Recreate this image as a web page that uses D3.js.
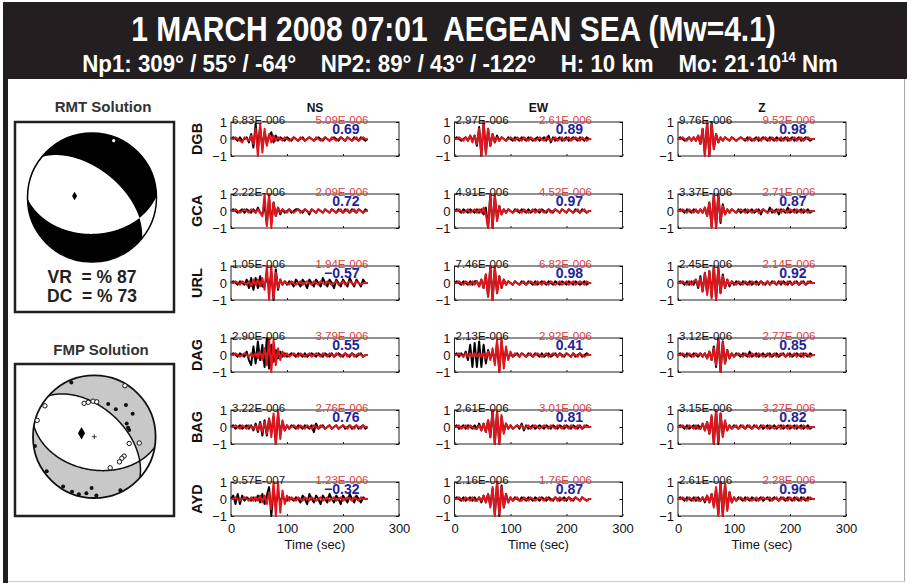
<!DOCTYPE html>
<html>
<head>
<meta charset="utf-8">
<script src="https://cdn.jsdelivr.net/npm/d3@7"></script>
<style>
html, body { margin: 0; padding: 0; background: #fff; }
svg { display: block; font-family: "Liberation Sans", Arial, sans-serif; }
text { white-space: pre; }
</style>
</head>
<body>
<svg id="chart" width="907" height="583"></svg>
<script>
// ---- header values ----
const titleText = "1 MARCH 2008 07:01  AEGEAN SEA (Mw=4.1)";
const subtitleParts = ["Np1: 309° / 55° / -64°    NP2: 89° / 43° / -122°    H: 10 km    Mo: 21·10", "14", " Nm"];

// ---- RMT solution (nodal planes: strike, dip) ----
const rmtPlanes = [[309, 55], [89, 43]];
const rmtStats = ["VR  = % 87", "DC  = % 73"];

// ---- FMP solution: nodal planes and first-motion polarities (azimuth deg, radial fraction) ----
const fmpPlanes = [[312, 52], [100, 45]];
const fmpCompAz = [337, 23, 38, 45, 59, 68, 75, 79, 261, 234, 212, 202, 195, 188, 178, 183, 154];
const fmpCompR  = [0.96, 0.58, 0.57, 0.73, 0.73, 0.57, 0.57, 0.58, 0.98, 0.96, 0.96, 0.97, 0.97, 0.93, 0.96, 0.84, 0.97];
const fmpDilAz  = [31, 302, 286, 343, 350, 358, 4, 101, 98, 123, 128, 135, 153];
const fmpDilR   = [0.97, 0.95, 0.97, 0.57, 0.57, 0.58, 0.57, 0.58, 0.74, 0.58, 0.57, 0.58, 0.57];

// ---- waveform fits ----
const stations = ["DGB", "GCA", "URL", "DAG", "BAG", "AYD"];
const components = ["NS", "EW", "Z"];
const obsPeak = [
  ["6.83E-006", "2.97E-006", "9.76E-006"],
  ["2.22E-006", "4.91E-006", "3.37E-006"],
  ["1.05E-006", "7.46E-006", "2.45E-006"],
  ["2.90E-006", "2.13E-006", "3.12E-006"],
  ["3.22E-006", "2.61E-006", "3.15E-006"],
  ["9.57E-007", "2.16E-006", "2.61E-006"]
];
const synPeak = [
  ["5.09E-006", "2.61E-006", "9.52E-006"],
  ["2.09E-006", "4.52E-006", "2.71E-006"],
  ["1.94E-006", "6.82E-006", "2.14E-006"],
  ["3.79E-006", "2.92E-006", "2.77E-006"],
  ["2.76E-006", "3.01E-006", "3.27E-006"],
  ["1.23E-006", "1.76E-006", "2.28E-006"]
];
const corrVals = [
  [0.69, 0.89, 0.98],
  [0.72, 0.97, 0.87],
  [-0.57, 0.98, 0.92],
  [0.55, 0.41, 0.85],
  [0.76, 0.81, 0.82],
  [-0.32, 0.87, 0.96]
];
const timeTicks = [0, 100, 200, 300];
const ampTicks = [-1, 0, 1];
const dt = 4; // seconds between samples; values in tenths of normalised amplitude

// observed (black) and synthetic (red) traces, 0..244 s
const DGB_NS_obs = [0,1,0,-1,1,-1,0,1,-2,3, -5,9,-6,7,-5,4,-3,2,4,-2, 2,-1,1,0,-1,1,0,-1,1,0, -1,0,1,-1,0,1,0,-1,0,1, 0,-1,1,0,-1,0,1,0,-1,1, 0,-1,1,0,-1,1,0,-1,1,0, -1,0];
const DGB_NS_syn = [0,0,1,0,-1,-2,1,0,-1,2, -3,6,-10,9,-8,6,-4,3,-2,2, -1,1,0,-1,1,0,-1,0,1,0, -1,1,0,-1,0,1,0,-1,1,0, -1,0,1,0,-1,1,0,-1,0,1, 0,-1,1,0,-1,0,1,-1,0,1, 0,0];
const GCA_NS_obs = [0,1,0,-1,0,1,-1,1,0,-1, 1,-1,2,-1,-2,4,-8,7,-7,5, -3,2,-2,1,-1,0,1,-1,0,1, 1,0,-1,1,0,-2,1,0,-1,1, 0,-1,1,0,-1,1,0,-1,1,0, -1,1,0,-1,1,0,-1,1,0,-1, 1,0];
const GCA_NS_syn = [0,0,1,0,-1,0,1,0,-1,1, 0,-1,1,-1,-3,10,-9,10,-10,5, -3,2,-1,1,0,-1,1,0,-1,0, 1,-1,0,1,0,-1,1,0,-1,1, 0,-1,1,0,-1,1,0,-1,0,1, -1,0,1,-1,0,1,-1,1,0,-1, 0,0];
const URL_NS_obs = [0,1,0,-1,1,0,-1,2,-3,3, -4,3,-3,4,-2,-2,4,-3,6,-10, 8,-4,2,-1,1,-1,1,0,-2,2, 0,-2,2,0,-3,2,0,-2,2,0, -2,3,0,-2,2,0,-3,2,0,-2, 2,0,-2,3,0,-2,2,0,-2,2, 0,0];
const URL_NS_syn = [0,0,1,0,-1,1,0,-1,1,-2, 2,-1,2,-2,3,-4,10,-10,10,-9, 6,-3,2,-1,1,0,-1,1,0,-1, 0,1,-1,0,1,0,-1,1,0,-1, 1,0,-1,1,0,-1,0,1,-1,0, 1,-1,0,1,0,-1,1,0,-1,0, 0,0];
const DAG_NS_obs = [0,1,0,-1,1,0,-1,2,-3,-6, 5,-5,8,-3,6,-7,10,-8,6,-4, 3,-2,2,-1,1,-1,0,1,0,-1, 1,0,-1,1,-1,0,1,0,-1,1, 0,-1,1,0,-1,1,-1,0,1,0, -1,1,0,-1,1,0,-1,0,1,-1, 0,0];
const DAG_NS_syn = [0,0,1,0,-1,0,1,0,-1,1, -1,1,-2,2,-3,4,-6,10,-10,9, -6,4,-3,2,-1,1,-1,0,1,0, -1,1,0,-1,0,1,-1,0,1,0, -1,1,0,-1,1,0,-1,1,0,-1, 0,1,-1,0,1,-1,0,1,0,-1, 0,0];
const BAG_NS_obs = [0,1,-1,0,1,-1,0,1,-1,1, -2,2,-3,3,-5,4,-5,5,-4,6, -10,7,-4,3,-2,1,-1,1,0,-1, 1,0,-1,1,0,-1,1,-3,2,-1, 0,1,-1,0,1,-1,0,1,-1,0, 1,-1,0,1,-1,0,1,-1,0,1, -1,0];
const BAG_NS_syn = [0,0,1,0,-1,1,0,-1,1,0, -1,1,-2,2,-3,3,-4,5,-6,8, -10,10,-7,4,-2,1,-1,0,1,0, -1,1,0,-1,1,0,-1,1,0,-1, 1,0,-1,0,1,-1,0,1,-1,0, 1,0,-1,1,0,-1,1,0,-1,1, 0,0];
const AYD_NS_obs = [0,2,-3,3,-3,2,-1,1,0,-1, 1,-1,2,-2,3,-3,2,7,-10,5, -3,2,-1,1,0,-1,1,0,-1,1, 0,-2,2,0,-3,3,0,-2,2,0, -3,2,0,-2,3,0,-2,2,0,-3, 2,0,-2,3,0,-2,2,0,-2,1, 0,0];
const AYD_NS_syn = [0,0,1,0,-1,0,1,0,-1,1, -1,1,-1,2,-2,2,-3,4,-6,10, -10,10,-8,5,-3,2,-1,1,0,-1, 1,0,-1,1,0,-1,1,0,-1,0, 1,-1,0,1,-1,0,1,-1,0,1, -1,0,1,0,-1,1,0,-1,1,0, 0,0];

const DGB_EW_obs = [0,1,0,-1,0,1,-1,2,-1,2, -4,7,-10,10,-8,6,-4,3,-2,2, -1,1,0,-1,1,0,-1,1,0,-1, 1,0,-1,1,0,-1,0,1,-1,0, 1,-1,2,-2,1,-1,0,1,-1,0, 1,-1,0,1,0,-1,1,0,-1,1, 0,0];
const DGB_EW_syn = [0,0,1,0,-1,1,-1,2,-2,2, -3,6,-10,10,-9,6,-4,3,-2,1, -1,1,0,-1,0,1,0,-1,1,0, -1,1,0,-1,1,0,-1,0,1,0, -1,1,0,-1,0,1,-1,0,1,-1, 0,1,-1,0,1,0,-1,1,0,-1, 0,0];
const GCA_EW_obs = [0,1,0,-1,1,0,-1,1,0,-1, 1,-1,1,-2,2,-10,10,-10,9,-5, 3,-2,1,-1,1,0,-1,1,0,-1, 1,0,-1,1,-1,0,1,0,-1,1, 0,-1,1,0,-1,1,0,-1,1,0, -1,1,0,-1,1,0,-1,1,0,-1, 0,0];
const GCA_EW_syn = [0,0,1,0,-1,0,1,-1,0,1, -1,1,-1,2,-2,-10,10,-10,10,-6, 3,-2,1,-1,1,0,-1,0,1,0, -1,1,0,-1,0,1,-1,0,1,0, -1,0,1,-1,0,1,0,-1,1,0, -1,1,0,-1,0,1,-1,0,1,-1, 0,0];
const URL_EW_obs = [0,1,0,-1,1,0,-1,1,-1,1, 1,-2,2,-3,5,-8,10,-10,9,-6, 4,-3,2,-1,1,0,-1,1,0,-1, 1,0,-1,1,0,-1,1,-1,0,1, 0,-1,1,0,-1,1,0,-1,1,0, -1,1,0,-1,1,0,-1,0,1,-1, 0,0];
const URL_EW_syn = [0,0,1,0,-1,1,0,-1,1,-1, 1,-2,2,-3,5,-8,10,-10,10,-6, 4,-3,2,-1,1,0,-1,1,0,-1, 0,1,-1,0,1,0,-1,1,0,-1, 1,0,-1,1,0,-1,0,1,-1,0, 1,-1,0,1,-1,0,1,0,-1,1, 0,0];
const DAG_EW_obs = [0,1,-1,1,-1,2,-3,6,-7,7, -7,8,-7,6,-5,3,-2,2,-4,7, -10,8,-5,3,-2,1,-1,0,1,-1, 1,0,-1,1,0,-1,1,0,-1,1, -1,0,1,-1,0,1,-1,1,0,-1, 1,0,-1,1,-1,0,1,-1,0,1, 0,0];
const DAG_EW_syn = [0,0,1,0,-1,1,-1,1,-1,1, -1,1,-1,1,-2,2,-3,4,-6,9, -10,10,-8,5,-3,2,-1,1,0,-1, 1,0,-1,0,1,-1,0,1,0,-1, 0,1,-1,0,1,0,-1,1,-1,0, 1,0,-1,1,0,-1,1,0,-1,0, 0,0];
const BAG_EW_obs = [0,1,-1,0,1,-1,1,0,-1,1, -1,2,-2,2,-3,4,-6,10,-10,9, -10,6,-3,2,-1,1,-1,0,1,-1, 2,-2,1,-1,0,1,-1,0,1,0, -1,1,0,-1,1,0,-1,1,0,-1, 1,0,-1,1,0,-1,1,-1,0,1, 0,0];
const BAG_EW_syn = [0,0,1,-1,0,1,-1,1,0,-1, -1,1,-2,2,-3,4,-6,10,-10,9, -10,7,-4,2,-1,1,-1,0,1,0, 1,-1,0,1,-1,0,1,0,-1,0, 1,0,-1,1,0,-1,1,0,-1,1, 0,-1,1,0,-1,1,0,-1,1,0, 0,0];
const AYD_EW_obs = [0,1,0,-1,1,-1,0,1,-1,1, -1,1,-2,2,-2,3,-4,6,-9,10, -10,8,-5,3,-2,1,-1,1,0,-1, 1,0,-1,1,0,-1,1,0,-1,1, 0,-1,1,0,-1,1,0,-1,0,1, -1,1,0,-1,1,0,-1,1,0,-1, 0,0];
const AYD_EW_syn = [0,0,1,0,-1,1,0,-1,1,-1, -1,1,-1,2,-2,3,-5,7,-10,10, -9,7,-5,3,-2,1,-1,0,1,-1, -1,1,0,-1,1,0,-1,0,1,0, -1,1,0,-1,0,1,-1,1,0,-1, 0,1,-1,0,1,0,-1,1,0,-1, 0,0];

const DGB_Z_obs = [0,1,0,-1,0,1,-1,1,-1,2, -3,6,-9,10,-10,10,-6,3,-2,1, -1,1,0,-1,1,0,-1,0,1,0, -1,1,0,-1,0,1,-1,0,1,0, -1,1,0,-1,1,0,-1,0,1,-1, 0,1,-1,0,1,-1,0,1,0,-1, 0,0];
const DGB_Z_syn = [0,0,1,0,-1,1,-1,1,-1,2, -3,6,-10,10,-10,9,-6,3,-2,1, -1,1,0,-1,1,0,-1,0,1,0, 0,-1,1,0,-1,0,1,-1,0,1, 0,-1,1,0,-1,0,1,-1,0,1, -1,0,1,-1,0,1,-1,0,1,0, 0,0];
const GCA_Z_obs = [0,1,0,-1,1,0,-1,1,0,-1, 1,-1,2,-3,5,-9,10,-10,10,-7, 4,-2,1,-1,1,0,-1,1,-1,0, 1,-1,0,1,-1,0,1,-2,1,0, -1,2,-1,0,1,-2,1,0,-1,2, -1,0,1,-1,0,1,-1,0,1,-1, 0,0];
const GCA_Z_syn = [0,0,1,0,-1,1,0,-1,1,-1, 1,-1,2,-3,5,-10,10,-10,10,-6, 3,-2,1,-1,1,0,-1,0,1,0, -1,1,0,-1,0,1,-1,0,1,0, -1,0,1,-1,0,1,-1,1,0,-1, 1,0,-1,1,0,-1,1,0,-1,0, 0,0];
const URL_Z_obs = [0,1,0,-1,1,-1,1,-1,2,-3, 4,-5,6,-6,7,-8,10,-10,9,-6, 5,-3,2,-2,1,-1,1,0,-1,1, 0,-1,1,-1,0,1,-1,1,0,-1, 1,-1,1,0,-1,1,-1,1,0,-1, 1,-1,0,1,-1,0,1,-1,0,1, 0,0];
const URL_Z_syn = [0,0,1,0,-1,1,-1,1,2,-2, 3,-5,6,-7,7,-9,10,-10,9,-6, 4,-3,2,-1,1,0,-1,1,0,-1, 1,0,-1,1,0,-1,0,1,-1,0, 1,-1,0,1,-1,0,1,0,-1,1, 0,-1,1,0,-1,1,0,-1,1,0, 0,0];
const DAG_Z_obs = [0,1,0,-1,1,0,-1,1,0,-1, 1,-1,1,-2,2,-3,5,-7,10,-10, 8,-5,3,-2,1,-1,1,0,-1,1, 0,-1,2,-1,0,1,-1,0,1,-1, 0,1,-1,0,1,-1,0,1,-1,0, 1,-1,0,1,0,-1,1,0,-1,1, 0,0];
const DAG_Z_syn = [0,0,1,0,-1,1,0,-1,1,0, 1,-1,1,-2,2,-3,4,-6,10,-10, 8,-5,3,-2,1,-1,0,1,0,-1, 1,0,-1,1,0,-1,1,0,-1,0, 1,-1,0,1,-1,0,1,0,-1,1, -1,0,1,-1,0,1,-1,1,0,-1, 0,0];
const BAG_Z_obs = [0,1,0,-1,1,-1,0,1,-1,1, -1,2,-2,3,-4,6,-10,10,-10,8, -5,3,-2,1,-1,1,0,-1,1,0, -1,1,0,-1,1,0,-1,1,-1,0, 1,-1,0,1,-1,0,1,-1,0,1, -1,0,1,-1,0,1,-1,0,1,-1, 0,0];
const BAG_Z_syn = [0,0,1,0,-1,1,0,-1,1,-1, -1,2,-2,3,-4,7,-10,10,-9,8, -6,4,-2,1,-1,0,1,-1,0,1, -1,0,1,-1,0,1,-1,0,1,0, -1,1,0,-1,0,1,-1,1,0,-1, 1,0,-1,1,0,-1,1,0,-1,0, 0,0];
const AYD_Z_obs = [0,1,0,-1,1,0,-1,1,-1,1, -1,1,-2,2,-2,3,-4,6,-9,10, -10,9,-6,4,-2,1,-1,1,0,-1, 1,0,-1,1,0,-1,0,1,-1,0, 1,-1,0,1,0,-1,1,0,-1,1, 0,-1,1,0,-1,1,0,-1,1,0, 0,0];
const AYD_Z_syn = [0,0,1,0,-1,1,0,-1,1,-1, -1,1,-1,2,-2,3,-5,7,-10,10, -10,9,-7,4,-2,1,-1,0,1,0, -1,1,0,-1,0,1,-1,0,1,0, 0,1,-1,0,1,-1,0,1,0,-1, 1,0,-1,1,0,-1,1,0,-1,1, 0,0];

const obsTraces = [
  [DGB_NS_obs, DGB_EW_obs, DGB_Z_obs],
  [GCA_NS_obs, GCA_EW_obs, GCA_Z_obs],
  [URL_NS_obs, URL_EW_obs, URL_Z_obs],
  [DAG_NS_obs, DAG_EW_obs, DAG_Z_obs],
  [BAG_NS_obs, BAG_EW_obs, BAG_Z_obs],
  [AYD_NS_obs, AYD_EW_obs, AYD_Z_obs]
];
const synTraces = [
  [DGB_NS_syn, DGB_EW_syn, DGB_Z_syn],
  [GCA_NS_syn, GCA_EW_syn, GCA_Z_syn],
  [URL_NS_syn, URL_EW_syn, URL_Z_syn],
  [DAG_NS_syn, DAG_EW_syn, DAG_Z_syn],
  [BAG_NS_syn, BAG_EW_syn, BAG_Z_syn],
  [AYD_NS_syn, AYD_EW_syn, AYD_Z_syn]
];

const svg = d3.select("#chart");
const W = 907, H = 583;

// frame and header band
svg.append("rect").attr("x", 0).attr("y", 0).attr("width", W).attr("height", H).attr("fill", "#fff");
svg.append("rect").attr("x", 3).attr("y", 2).attr("width", W - 3).attr("height", 77).attr("fill", "#231f20");
svg.append("rect").attr("x", 3).attr("y", 2).attr("width", 5).attr("height", H - 2).attr("fill", "#231f20");
svg.append("line").attr("x1", 904.5).attr("x2", 904.5).attr("y1", 79).attr("y2", 582)
  .attr("stroke", "#aaa").attr("stroke-width", 1);
svg.append("line").attr("x1", 8).attr("x2", 905).attr("y1", 581.5).attr("y2", 581.5)
  .attr("stroke", "#ccc").attr("stroke-width", 1);

// squeeze header text to its condensed width
function fitWidth(sel, cx, width) {
  const len = sel.node().getComputedTextLength();
  sel.attr("transform", `translate(${cx},0) scale(${width / len},1)`);
}

const title = svg.append("text")
  .attr("x", 0).attr("y", 41)
  .attr("text-anchor", "middle")
  .attr("fill", "#fff").attr("font-weight", "bold").attr("font-size", 36)
  .text(titleText);
fitWidth(title, 453.5, 645);

const sub = svg.append("text")
  .attr("x", 0).attr("y", 72)
  .attr("text-anchor", "middle")
  .attr("fill", "#fff").attr("font-weight", "bold").attr("font-size", 24);
sub.append("tspan").text(subtitleParts[0]);
sub.append("tspan").attr("dy", -10).attr("font-size", 14).text(subtitleParts[1]);
sub.append("tspan").attr("dy", 10).text(subtitleParts[2]);
fitWidth(sub, 460, 756);

// ---- focal mechanism helpers (lower hemisphere, equal area) ----
const rad = Math.PI / 180;
const dot = (a, b) => a[0] * b[0] + a[1] * b[1] + a[2] * b[2];

function planeNormal(strike, dip) {
  const f = strike * rad, d = dip * rad;
  return [-Math.sin(d) * Math.sin(f), Math.sin(d) * Math.cos(f), -Math.cos(d)];
}

// disc point (east, north as fraction of radius) -> ray (north, east, down)
function rayFromDisc(u, w) {
  const r = Math.min(Math.hypot(u, w), 1);
  const az = Math.atan2(u, w);
  const inc = 2 * Math.asin(r / Math.SQRT2);
  return [Math.sin(inc) * Math.cos(az), Math.sin(inc) * Math.sin(az), Math.cos(inc)];
}

// vector (north, east, down) -> disc point [east, north]
function project(v) {
  if (v[2] < -1e-9) v = v.map(c => -c);
  const len = Math.hypot(v[0], v[1], v[2]);
  const inc = Math.acos(Math.max(-1, Math.min(1, v[2] / len)));
  const az = Math.atan2(v[1], v[0]);
  const r = Math.SQRT2 * Math.sin(inc / 2);
  return [r * Math.sin(az), r * Math.cos(az)];
}

function polarToDisc(azDeg, r) {
  return [r * Math.sin(azDeg * rad), r * Math.cos(azDeg * rad)];
}

function drawBall(id, cx, cy, R, planes, fill) {
  const g = svg.append("g");
  const clipId = "clip-" + id;
  svg.append("clipPath").attr("id", clipId)
    .append("circle").attr("cx", cx).attr("cy", cy).attr("r", R);

  const n1 = planeNormal(planes[0][0], planes[0][1]);
  const n2 = planeNormal(planes[1][0], planes[1][1]);
  const n = 220, span = 1.1;
  const grid = d3.scaleLinear().domain([0, n]).range([-span, span]);
  const values = new Float64Array(n * n);
  for (let j = 0; j < n; j++) {
    for (let i = 0; i < n; i++) {
      const ray = rayFromDisc(grid(i + 0.5), -grid(j + 0.5));
      values[j * n + i] = -dot(n1, ray) * dot(n2, ray);
    }
  }
  const contours = d3.contours().size([n, n]).thresholds([0])(values);
  const px = d3.scaleLinear().domain([0, n]).range([cx - R * span, cx + R * span]);
  const py = d3.scaleLinear().domain([0, n]).range([cy - R * span, cy + R * span]);
  const path = d3.geoPath(d3.geoTransform({
    point(x, y) { this.stream.point(px(x), py(y)); }
  }));

  g.append("circle").attr("cx", cx).attr("cy", cy).attr("r", R).attr("fill", "#fff");
  g.append("g").attr("clip-path", `url(#${clipId})`)
    .selectAll("path").data(contours).join("path")
    .attr("d", path).attr("fill", fill);

  const toScreen = p => [cx + R * p[0], cy - R * p[1]];
  return { g, n1, n2, toScreen };
}

// ---- RMT panel ----
svg.append("text").attr("x", 103).attr("y", 112).attr("text-anchor", "middle")
  .attr("font-weight", "bold").attr("font-size", 15).attr("fill", "#333").text("RMT Solution");
svg.append("rect").attr("x", 15).attr("y", 122).attr("width", 159).attr("height", 190)
  .attr("fill", "none").attr("stroke", "#231f20").attr("stroke-width", 2.5);

const rmt = drawBall("rmt", 92, 197.5, 64.5, rmtPlanes, "#000");
rmt.g.append("circle").attr("cx", 92).attr("cy", 197.5).attr("r", 64.5)
  .attr("fill", "none").attr("stroke", "#000").attr("stroke-width", 1.5);
{
  const pAxis = project(rmt.n1.map((c, k) => c + rmt.n2[k]));
  const tAxis = project(rmt.n1.map((c, k) => c - rmt.n2[k]));
  const [pxs, pys] = rmt.toScreen(pAxis);
  const [txs, tys] = rmt.toScreen(tAxis);
  rmt.g.append("path").attr("d", d3.symbol(d3.symbolDiamond, 22)())
    .attr("transform", `translate(${pxs},${pys})`).attr("fill", "#000");
  rmt.g.append("circle").attr("cx", txs).attr("cy", tys).attr("r", 1.6).attr("fill", "#fff");
}
rmtStats.forEach((s, i) => {
  svg.append("text").attr("x", 92).attr("y", 283 + i * 19).attr("text-anchor", "middle")
    .attr("font-weight", "bold").attr("font-size", 17.5).attr("fill", "#231f20").text(s);
});

// ---- FMP panel ----
svg.append("text").attr("x", 101).attr("y", 355).attr("text-anchor", "middle")
  .attr("font-weight", "bold").attr("font-size", 15).attr("fill", "#333").text("FMP Solution");
svg.append("rect").attr("x", 15).attr("y", 364).attr("width", 159).attr("height", 152)
  .attr("fill", "none").attr("stroke", "#231f20").attr("stroke-width", 2.5);

const fcx = 94.3, fcy = 436.7, fR = 61.3;
const fmp = drawBall("fmp", fcx, fcy, fR, fmpPlanes, "#c8c8c8");
{
  const line = d3.line();
  fmpPlanes.forEach(([strike, dip]) => {
    const f = strike * rad, d = dip * rad;
    const s = [Math.cos(f), Math.sin(f), 0];
    const dd = [-Math.cos(d) * Math.sin(f), Math.cos(d) * Math.cos(f), Math.sin(d)];
    const pts = d3.range(0, 181).map(k => {
      const th = k * rad;
      const v = s.map((c, m) => Math.cos(th) * c + Math.sin(th) * dd[m]);
      return fmp.toScreen(project(v));
    });
    fmp.g.append("path").attr("d", line(pts)).attr("fill", "none")
      .attr("stroke", "#111").attr("stroke-width", 1.5);
  });
  fmp.g.append("circle").attr("cx", fcx).attr("cy", fcy).attr("r", fR)
    .attr("fill", "none").attr("stroke", "#111").attr("stroke-width", 1.8);

  fmpCompAz.forEach((az, i) => {
    const [x, y] = fmp.toScreen(polarToDisc(az, fmpCompR[i]));
    fmp.g.append("circle").attr("cx", x).attr("cy", y).attr("r", 2).attr("fill", "#111");
  });
  fmpDilAz.forEach((az, i) => {
    const [x, y] = fmp.toScreen(polarToDisc(az, fmpDilR[i]));
    fmp.g.append("circle").attr("cx", x).attr("cy", y).attr("r", 2.2)
      .attr("fill", "#fff").attr("stroke", "#111").attr("stroke-width", 1);
  });

  const pAxis = project(fmp.n1.map((c, k) => c + fmp.n2[k]));
  const [pxs, pys] = fmp.toScreen(pAxis);
  fmp.g.append("path").attr("d", d3.symbol(d3.symbolDiamond, 45)())
    .attr("transform", `translate(${pxs},${pys})`).attr("fill", "#000");
  // centre mark
  fmp.g.append("path")
    .attr("d", `M${fcx - 2.5},${fcy}H${fcx + 2.5}M${fcx},${fcy - 2.5}V${fcy + 2.5}`)
    .attr("stroke", "#111").attr("stroke-width", 0.8);
}

// ---- waveform panels ----
const panelW = 168, panelH = 34;
const colLeft = d3.scaleLinear().domain([0, 1]).range([231, 454.5]);
const rowTop = d3.scaleLinear().domain([0, 1]).range([122, 194]);
const fmtCorr = d3.format(".2f");

stations.forEach((st, r) => {
  const top = rowTop(r);

  svg.append("text")
    .attr("transform", `translate(${202},${top + panelH / 2}) rotate(-90)`)
    .attr("text-anchor", "middle")
    .attr("font-weight", "bold").attr("font-size", 14.5).attr("fill", "#111")
    .text(st);

  components.forEach((comp, c) => {
    const left = colLeft(c);
    const x = d3.scaleLinear().domain([0, 300]).range([left, left + panelW]);
    const y = d3.scaleLinear().domain([-1, 1]).range([top + panelH, top]);
    const g = svg.append("g");

    if (r === 0) {
      g.append("text").attr("x", x(150)).attr("y", top - 10).attr("text-anchor", "middle")
        .attr("font-weight", "bold").attr("font-size", 12).attr("fill", "#111").text(comp);
    }

    g.append("rect").attr("x", left).attr("y", top).attr("width", panelW).attr("height", panelH)
      .attr("fill", "#fff").attr("stroke", "#222").attr("stroke-width", 1);

    // axes with inside ticks
    const yAxis = g.append("g").attr("transform", `translate(${left},0)`)
      .call(d3.axisLeft(y).tickValues(ampTicks).tickSize(-3).tickPadding(4).tickFormat(d3.format("d")));
    yAxis.select(".domain").remove();
    yAxis.selectAll("text").attr("font-size", 13).attr("font-family", "Liberation Sans, Arial, sans-serif").attr("fill", "#111");
    yAxis.selectAll("line").attr("stroke", "#222");

    const yAxisR = g.append("g").attr("transform", `translate(${left + panelW},0)`)
      .call(d3.axisRight(y).tickValues(ampTicks).tickSize(-3).tickFormat(""));
    yAxisR.select(".domain").remove();

    const xAxis = g.append("g").attr("transform", `translate(0,${top + panelH})`)
      .call(d3.axisBottom(x).tickValues(timeTicks).tickSize(-2).tickPadding(8)
        .tickFormat(r === stations.length - 1 ? d3.format("d") : ""));
    xAxis.select(".domain").remove();
    xAxis.selectAll("text").attr("font-size", 13).attr("font-family", "Liberation Sans, Arial, sans-serif").attr("fill", "#111");
    xAxis.selectAll("line").attr("stroke", "#222");

    if (r === stations.length - 1) {
      g.append("text").attr("x", x(150)).attr("y", top + panelH + 33).attr("text-anchor", "middle")
        .attr("font-size", 13).attr("fill", "#111").text("Time (sec)");
    }

    const line = d3.line().x((d, i) => x(i * dt)).y(d => y(d / 10));
    g.append("path").attr("d", line(obsTraces[r][c])).attr("fill", "none")
      .attr("stroke", "#000").attr("stroke-width", 2).attr("stroke-linejoin", "round");
    g.append("path").attr("d", line(synTraces[r][c])).attr("fill", "none")
      .attr("stroke", "#e3141b").attr("stroke-width", 2).attr("stroke-linejoin", "round");

    g.append("text").attr("x", left + 1).attr("y", top + 2)
      .attr("font-size", 11.5).attr("fill", "#111").text(obsPeak[r][c]);
    g.append("text").attr("x", left + 137.5).attr("y", top + 1.5).attr("text-anchor", "end")
      .attr("font-size", 11.5).attr("fill", "#d9403f").text(synPeak[r][c]);
    g.append("text").attr("x", left + 128.5).attr("y", top + 12).attr("text-anchor", "end")
      .attr("font-weight", "bold").attr("font-size", 14).attr("fill", "#232399")
      .text(fmtCorr(corrVals[r][c]));
  });
});
</script>
</body>
</html>
